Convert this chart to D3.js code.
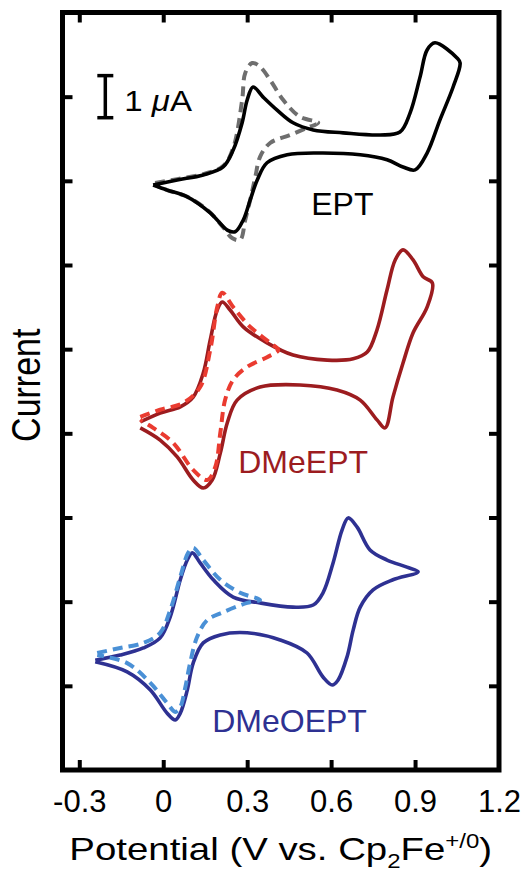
<!DOCTYPE html>
<html>
<head>
<meta charset="utf-8">
<script src="https://cdn.jsdelivr.net/npm/d3@7"></script>
<style>
  html, body { margin: 0; padding: 0; background: #fff; }
  text { font-family: "Liberation Sans", Arial, Helvetica, sans-serif; }
</style>
</head>
<body>
<div id="viewPanel"></div>
<script>
// CV traces, [potential (V), current (uA, offset per compound)]
const eptSolid = [
  [-0.036,13.90],[0.050,14.02],[0.143,14.14],[0.214,14.33],[0.250,14.73],[0.282,15.38],[0.300,15.92],
  [0.321,16.23],[0.357,15.99],[0.407,15.68],[0.464,15.38],[0.536,15.21],[0.643,15.14],[0.775,15.09],
  [0.846,15.16],[0.882,15.61],[0.918,16.47],[0.943,17.11],[0.971,17.28],[1.050,16.92],[1.061,16.80],
  [1.036,16.23],[0.989,15.45],[0.943,14.66],[0.900,14.26],[0.857,14.33],[0.800,14.50],[0.704,14.62],
  [0.561,14.66],[0.443,14.62],[0.371,14.43],[0.336,14.02],[0.311,13.55],[0.286,13.07],[0.257,12.79],
  [0.229,12.83],[0.168,13.24],[0.086,13.62],[0.014,13.78],[-0.036,13.90]
];
const eptDashed = [
  [-0.029,13.95],[0.050,14.04],[0.143,14.16],[0.214,14.35],[0.250,14.78],[0.282,15.92],[0.293,16.56],
  [0.318,16.80],[0.346,16.71],[0.382,16.40],[0.429,15.92],[0.489,15.52],[0.554,15.38],[0.514,15.26],
  [0.454,15.09],[0.382,14.90],[0.346,14.57],[0.329,14.09],[0.311,13.55],[0.293,13.07],[0.275,12.60],
  [0.246,12.64],[0.214,12.90],[0.157,13.31],[0.086,13.62],[0.014,13.78],[-0.029,13.90]
];
const dmeSolid = [
  [-0.082,8.27],[-0.011,8.48],[0.061,8.63],[0.107,8.86],[0.143,9.43],[0.168,10.22],[0.193,10.93],
  [0.211,11.12],[0.239,10.93],[0.286,10.53],[0.371,10.15],[0.464,9.86],[0.586,9.74],[0.679,9.77],
  [0.729,9.93],[0.764,10.46],[0.800,11.41],[0.829,12.12],[0.857,12.36],[0.893,12.12],[0.929,11.72],
  [0.962,11.57],[0.943,11.00],[0.893,10.39],[0.857,9.67],[0.821,8.86],[0.793,8.13],[0.764,8.32],
  [0.704,8.79],[0.621,9.03],[0.489,9.15],[0.346,9.10],[0.264,8.79],[0.229,8.25],[0.204,7.53],
  [0.175,6.89],[0.143,6.70],[0.107,6.89],[0.050,7.44],[-0.011,7.84],[-0.082,8.13]
];
const dmeDashed = [
  [-0.082,8.39],[-0.011,8.56],[0.071,8.72],[0.132,9.10],[0.168,9.98],[0.193,11.00],[0.211,11.34],
  [0.250,11.00],[0.311,10.53],[0.382,10.15],[0.411,9.98],[0.371,9.81],[0.300,9.58],[0.250,9.27],
  [0.221,8.79],[0.204,8.01],[0.186,7.20],[0.157,6.89],[0.107,7.13],[0.036,7.77],[-0.036,8.13],[-0.082,8.32]
];
const dmeoSolid = [
  [-0.243,2.61],[-0.154,2.73],[-0.071,2.90],[-0.011,3.14],[0.025,3.64],[0.061,4.52],[0.086,4.99],
  [0.104,5.16],[0.132,4.92],[0.179,4.52],[0.250,4.11],[0.346,3.97],[0.464,3.87],[0.536,3.92],
  [0.571,4.21],[0.607,4.92],[0.639,5.70],[0.661,5.99],[0.693,5.77],[0.739,5.23],[0.800,4.99],
  [0.871,4.82],[0.911,4.71],[0.821,4.52],[0.750,4.28],[0.704,3.87],[0.679,3.33],[0.657,2.69],
  [0.625,2.14],[0.604,2.02],[0.571,2.21],[0.514,2.78],[0.418,3.09],[0.300,3.26],[0.204,3.21],
  [0.143,3.02],[0.107,2.54],[0.086,1.90],[0.061,1.35],[0.043,1.19],[0.014,1.35],[-0.046,1.90],
  [-0.129,2.33],[-0.243,2.57]
];
const dmeoDashed = [
  [-0.236,2.78],[-0.154,2.90],[-0.071,3.02],[-0.011,3.26],[0.025,3.80],[0.061,4.59],[0.089,5.16],
  [0.107,5.28],[0.143,4.99],[0.204,4.52],[0.275,4.21],[0.346,4.04],[0.300,3.97],[0.214,3.75],
  [0.157,3.56],[0.121,3.16],[0.096,2.54],[0.079,1.97],[0.061,1.50],[0.043,1.38],[0.014,1.59],
  [-0.046,2.07],[-0.129,2.54],[-0.236,2.73]
];

const compounds = ['EPT', 'DMeEPT', 'DMeOEPT'];
const xTicks = [-0.3, 0, 0.3, 0.6, 0.9, 1.2];
const yTicks = [2, 4, 6, 8, 10, 12, 14, 16];
const scaleBar = [15.5, 16.5]; // 1 uA

const width = 522, height = 874;
const margin = { top: 12.5, right: 23, bottom: 104, left: 62.5 };
const stretch = 1.2; // axis titles in the figure are drawn wide

const x = d3.scaleLinear().domain([-0.36, 1.2]).range([margin.left, width - margin.right]);
const y = d3.scaleLinear().domain([0, 18]).range([height - margin.bottom, margin.top]);

const svg = d3.select('#viewPanel').append('svg')
    .attr('width', width)
    .attr('height', height);

const line = d3.line()
    .x(d => x(d[0]))
    .y(d => y(d[1]))
    .curve(d3.curveCatmullRom.alpha(0.5));

const traces = [
    { data: eptDashed, color: '#6e6e6e', dash: '10,6' },
    { data: eptSolid, color: '#000000', dash: null },
    { data: dmeSolid, color: '#9c1c1f', dash: null },
    { data: dmeDashed, color: '#ea3b30', dash: '10,6' },
    { data: dmeoSolid, color: '#2e3192', dash: null },
    { data: dmeoDashed, color: '#4a90d6', dash: '10,6' }
];

svg.append('g')
    .attr('fill', 'none')
    .attr('stroke-linejoin', 'round')
    .selectAll('path')
    .data(traces)
    .join('path')
    .attr('d', d => line(d.data))
    .attr('stroke', d => d.color)
    .attr('stroke-width', d => d.dash ? 4 : 3.6)
    .attr('stroke-dasharray', d => d.dash);

// Axes: inward ticks on all four sides
const tickLen = 10;
const xMin = x.range()[0], xMax = x.range()[1];
const yBot = y.range()[0], yTop = y.range()[1];

const gBottom = svg.append('g')
    .attr('transform', `translate(0,${yBot})`)
    .call(d3.axisBottom(x).tickValues(xTicks).tickSize(-tickLen).tickPadding(20)
        .tickFormat(d => String(d)));
const gTop = svg.append('g')
    .attr('transform', `translate(0,${yTop})`)
    .call(d3.axisTop(x).tickValues(xTicks.slice(0, -1)).tickSize(-tickLen).tickFormat(''));
const gLeft = svg.append('g')
    .attr('transform', `translate(${xMin},0)`)
    .call(d3.axisLeft(y).tickValues(yTicks).tickSize(-tickLen).tickFormat(''));
const gRight = svg.append('g')
    .attr('transform', `translate(${xMax},0)`)
    .call(d3.axisRight(y).tickValues(yTicks).tickSize(-tickLen).tickFormat(''));

[gBottom, gTop, gLeft, gRight].forEach(g => {
    g.select('.domain').remove();
    g.selectAll('.tick line').attr('stroke', '#000').attr('stroke-width', 4);
});
gBottom.selectAll('.tick line').filter(d => d === 1.2).remove();
gBottom.selectAll('.tick text')
    .attr('font-size', 31)
    .attr('fill', '#000')
    .attr('font-family', '"Liberation Sans", Arial, sans-serif');

svg.append('rect')
    .attr('x', xMin).attr('y', yTop)
    .attr('width', xMax - xMin).attr('height', yBot - yTop)
    .attr('fill', 'none')
    .attr('stroke', '#000')
    .attr('stroke-width', 5);

// Scale bar
const sb = svg.append('g').attr('stroke', '#000').attr('stroke-width', 3.5);
const sbx = x(-0.207);
sb.append('line').attr('x1', sbx).attr('x2', sbx).attr('y1', y(scaleBar[0])).attr('y2', y(scaleBar[1]));
sb.selectAll('line.cap').data(scaleBar).join('line')
    .attr('class', 'cap')
    .attr('x1', sbx - 8).attr('x2', sbx + 8)
    .attr('y1', d => y(d)).attr('y2', d => y(d));
const sbt = svg.append('text')
    .attr('transform', `translate(${sbx + 19},${y(scaleBar[0]) - 7}) scale(1.1,1)`)
    .attr('font-size', 30);
sbt.append('tspan').text('1 ');
sbt.append('tspan').attr('font-style', 'italic').text('μ');
sbt.append('tspan').text('A');

// Compound labels
const labelPos = [
    { v: 0.529, i: 13.19, color: '#000000' },
    { v: 0.268, i: 7.06, color: '#9c1c1f' },
    { v: 0.175, i: 0.90, color: '#2e3192' }
];
svg.selectAll('text.label')
    .data(compounds)
    .join('text')
    .attr('class', 'label')
    .attr('x', (d, k) => x(labelPos[k].v))
    .attr('y', (d, k) => y(labelPos[k].i))
    .attr('fill', (d, k) => labelPos[k].color)
    .attr('font-size', 32)
    .text(d => d);

// Axis titles
svg.append('text')
    .attr('transform', `translate(40,${(yBot + yTop) / 2 - 6}) rotate(-90) scale(1,${stretch})`)
    .attr('text-anchor', 'middle')
    .attr('font-size', 34)
    .text('Current');

const xt = svg.append('text')
    .attr('transform', `translate(${(xMin + xMax) / 2},860) scale(${stretch},1)`)
    .attr('text-anchor', 'middle')
    .attr('font-size', 32);
xt.append('tspan').text('Potential (V vs. Cp');
xt.append('tspan').attr('font-size', 20).attr('dy', 8).text('2');
xt.append('tspan').attr('dy', -8).text('Fe');
xt.append('tspan').attr('font-size', 20).attr('dy', -12).text('+/0');
xt.append('tspan').attr('dy', 12).text(')');
</script>
</body>
</html>
